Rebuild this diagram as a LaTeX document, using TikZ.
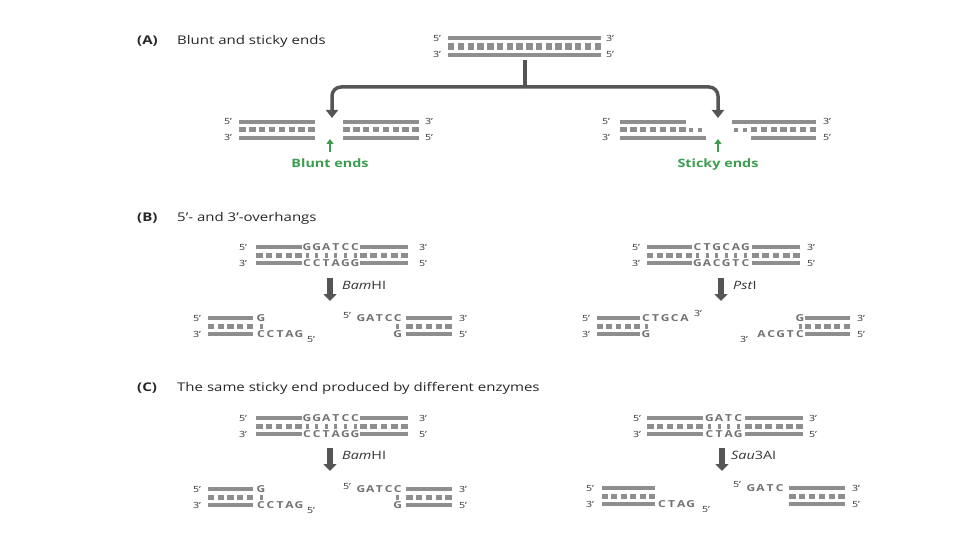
\documentclass[tikz,border=0pt]{standalone}
\usepackage{fontspec}
\setmainfont[FakeStretch=1.25]{Open Sans}
\usetikzlibrary{arrows.meta}
\definecolor{strandgray}{HTML}{8E8E8E}
\definecolor{arrowgray}{HTML}{555555}
\definecolor{seqgray}{HTML}{727272}
\definecolor{labelgray}{HTML}{333333}
\definecolor{endgreen}{HTML}{3A9D4F}
\newcommand{\strandbar}[3]{\fill[strandgray] (#1,#3-2) rectangle (#2,#3+2);}
\newcommand{\tickrow}[5]{%
  \pgfmathsetmacro{\tw}{(#2-#1-(#4-1)*3.3)/#4}%
  \foreach \k in {1,...,#4}{\fill[strandgray] ({#1+(\k-1)*(\tw+3.3)},{#3-#5/2}) rectangle ++(\tw,#5);}}
\newcommand{\dnaseg}[4]{\strandbar{#1}{#2}{#3}\tickrow{#1}{#2}{#3+8}{#4}{5}\strandbar{#1}{#2}{#3+16}}
\newcommand{\pairdash}[2]{\fill[strandgray] (#1-1.5,#2-2.5) rectangle (#1+1.5,#2+2.5);}
\newcommand{\lab}[4]{\node[lbl] (#1) at (#2,#3) {#4};}
\newcommand{\seqrow}[5]{\foreach \c [count=\i from 0] in {#5}{\node[seqtext] (#1\i) at ({#2+\i*#3},#4) {\c};}}
\newcommand{\dashrow}[4]{\foreach \i in {0,...,#4}{\pairdash{#1+\i*#2}{#3}}}
\tikzset{
  lbl/.style={font=\fontsize{8.5}{9}\selectfont, text=labelgray, inner sep=0pt, text height=6pt, text depth=0pt},
  seqtext/.style={font=\bfseries\fontsize{9.6}{10}\selectfont, text=seqgray, inner sep=0pt, text height=6.9pt, text depth=0pt},
  titletext/.style={font=\fontsize{12}{14}\selectfont, text=black!85, anchor=west, inner sep=0pt, text height=8.6pt, text depth=0pt},
  enzyme/.style={font=\fontsize{11.5}{13}\selectfont, text=labelgray, anchor=west, inner sep=0pt, text height=8.2pt, text depth=0pt},
  greenlbl/.style={font=\bfseries\fontsize{11.5}{13}\selectfont, text=endgreen, inner sep=0pt, text height=8.2pt, text depth=0pt},
  bigarrow/.style={draw=arrowgray, line width=6pt, -{Triangle[width=13pt,length=7pt]}},
  treeline/.style={draw=arrowgray, line width=3.5pt, rounded corners=9pt},
  treearrow/.style={treeline, -{Triangle[width=12pt,length=8pt]}},
  greenarrow/.style={draw=endgreen, line width=2pt, -{Triangle[width=7pt,length=5pt]}}
}
\begin{document}
\begin{tikzpicture}[x=1pt,y=-1pt]
\path[use as bounding box] (0,0) rectangle (960,540);
% ---------------- (A)
\node[titletext,font=\bfseries\fontsize{12}{14}\selectfont] (tA) at (137,40) {(A)};
\node[titletext] (tAt) at (177,40) {Blunt and sticky ends};
% top DNA
\strandbar{448}{601}{38.5}\tickrow{448}{601}{46.5}{16}{6.5}\strandbar{448}{601}{55}
\lab{a5a}{437}{38.5}{5'}\lab{a3a}{437}{55}{3'}
\lab{a3b}{610}{38.5}{3'}\lab{a5b}{610}{55}{5'}
\coordinate (stemtop) at (525,60);
\coordinate (fork) at (525,87);
\coordinate (bluntin) at (332,118);
\coordinate (stickyin) at (718,118);
\draw[treeline] (stemtop) -- (fork);
\draw[treearrow] (fork) -| (bluntin);
\draw[treearrow] (fork) -| (stickyin);
% blunt
\dnaseg{239}{315}{122}{8}\dnaseg{343}{419}{122}{8}
\lab{b5a}{228}{122}{5'}\lab{b3a}{228}{138}{3'}
\lab{b3b}{429}{122}{3'}\lab{b5b}{429}{138}{5'}
\node[greenlbl] (blunt) at (330,163) {Blunt ends};
\coordinate (bluntarr) at (330,139);
\draw[greenarrow] (330,152) -- (bluntarr);
% sticky
\strandbar{620}{686}{122}\tickrow{620}{686}{130}{7}{5}\strandbar{620}{706}{138}
\fill[strandgray] (689,128.5) rectangle ++(4,3.5);
\fill[strandgray] (698,128.5) rectangle ++(4,3.5);
\strandbar{732}{816}{122}\tickrow{751}{816}{130}{7}{5}\strandbar{751}{816}{138}
\fill[strandgray] (734,128.5) rectangle ++(4,3.5);
\fill[strandgray] (743,128.5) rectangle ++(4,3.5);
\lab{s5a}{606}{122}{5'}\lab{s3a}{606}{138}{3'}
\lab{s3b}{827}{122}{3'}\lab{s5b}{827}{138}{5'}
\node[greenlbl] (sticky) at (718,163) {Sticky ends};
\coordinate (stickyarr) at (718,139);
\draw[greenarrow] (718,152) -- (stickyarr);
% ---------------- (B)
\node[titletext,font=\bfseries\fontsize{12}{14}\selectfont] (tB) at (137,217) {(B)};
\node[titletext] (tBt) at (177,217) {5'- and 3'-overhangs};
% BamHI top
\dnaseg{256}{302}{247}{5}\dnaseg{360}{408}{247}{5}
\seqrow{bgt}{307}{9.6}{247}{G,G,A,T,C,C}
\seqrow{bgb}{307}{9.6}{263}{C,C,T,A,G,G}
\dashrow{307}{9.6}{255}{5}
\lab{bl5a}{243}{247}{5'}\lab{bl3a}{243}{263}{3'}
\lab{bl3b}{423}{247}{3'}\lab{bl5b}{423}{263}{5'}
\coordinate (bArrA) at (330,278);\coordinate (bArrB) at (330,301);
\draw[bigarrow] (bArrA) -- (bArrB);
\node[enzyme] (bam1) at (342,285) {\textit{Bam}HI};
% BamHI bottom
\dnaseg{208}{253}{318}{5}
\seqrow{bcl}{261}{0}{318}{G}
\pairdash{261}{326}
\seqrow{bcb}{261}{9.5}{334}{C,C,T,A,G}
\lab{bc5a}{197}{318}{5'}\lab{bc3a}{197}{334}{3'}
\lab{bc5c}{311}{339}{5'}
\lab{bc5d}{347}{315}{5'}
\seqrow{bdt}{361}{9.2}{318}{G,A,T,C,C}
\pairdash{397.8}{326}
\seqrow{bdb}{397.8}{0}{334}{G}
\dnaseg{406}{452}{318}{5}
\lab{bd3a}{463}{318}{3'}\lab{bd5a}{463}{334}{5'}
% PstI top
\dnaseg{647}{692}{247}{5}\dnaseg{752}{800}{247}{5}
\seqrow{pgt}{697.5}{9.6}{247}{C,T,G,C,A,G}
\seqrow{pgb}{697.5}{9.6}{263}{G,A,C,G,T,C}
\dashrow{697.5}{9.6}{255}{5}
\lab{pl5a}{636}{247}{5'}\lab{pl3a}{636}{263}{3'}
\lab{pl3b}{811}{247}{3'}\lab{pl5b}{811}{263}{5'}
\coordinate (pArrA) at (721,278);\coordinate (pArrB) at (721,301);
\draw[bigarrow] (pArrA) -- (pArrB);
\node[enzyme] (pst) at (733,285) {\textit{Pst}I};
% PstI bottom
\dnaseg{597}{640}{318}{5}
\seqrow{pct}{646}{9.6}{318}{C,T,G,C,A}
\pairdash{646}{326}
\seqrow{pcb}{646}{0}{334}{G}
\lab{pc5a}{586}{318}{5'}\lab{pc3a}{586}{334}{3'}
\lab{pc3c}{698}{313}{3'}
\seqrow{pdt}{800}{0}{318}{G}
\pairdash{800}{326}
\seqrow{pdb}{761.6}{9.6}{334}{A,C,G,T,C}
\lab{pd3c}{744}{339}{3'}
\dnaseg{805}{850}{318}{5}
\lab{pd3a}{861}{318}{3'}\lab{pd5a}{861}{334}{5'}
% ---------------- (C)
\node[titletext,font=\bfseries\fontsize{12}{14}\selectfont] (tC) at (137,387) {(C)};
\node[titletext] (tCt) at (177,387) {The same sticky end produced by different enzymes};
% BamHI top
\dnaseg{256}{302}{418}{5}\dnaseg{360}{408}{418}{5}
\seqrow{cgt}{307}{9.6}{418}{G,G,A,T,C,C}
\seqrow{cgb}{307}{9.6}{434}{C,C,T,A,G,G}
\dashrow{307}{9.6}{426}{5}
\lab{cl5a}{243}{418}{5'}\lab{cl3a}{243}{434}{3'}
\lab{cl3b}{423}{418}{3'}\lab{cl5b}{423}{434}{5'}
\coordinate (cArrA) at (330,448);\coordinate (cArrB) at (330,471);
\draw[bigarrow] (cArrA) -- (cArrB);
\node[enzyme] (bam2) at (342,455) {\textit{Bam}HI};
% BamHI bottom
\dnaseg{208}{253}{489}{5}
\seqrow{ccl}{261}{0}{489}{G}
\pairdash{261}{497}
\seqrow{ccb}{261}{9.5}{505}{C,C,T,A,G}
\lab{cc5a}{197}{489}{5'}\lab{cc3a}{197}{505}{3'}
\lab{cc5c}{311}{510}{5'}
\lab{cc5d}{347}{486}{5'}
\seqrow{cdt}{361}{9.2}{489}{G,A,T,C,C}
\pairdash{397.8}{497}
\seqrow{cdb}{397.8}{0}{505}{G}
\dnaseg{406}{452}{489}{5}
\lab{cd3a}{463}{489}{3'}\lab{cd5a}{463}{505}{5'}
% Sau3AI top
\dnaseg{647}{703}{418}{6}\dnaseg{745}{803}{418}{6}
\seqrow{sgt}{709.5}{9.6}{418}{G,A,T,C}
\seqrow{sgb}{709.5}{9.6}{434}{C,T,A,G}
\dashrow{709.5}{9.6}{426}{3}
\lab{sl5a}{637}{418}{5'}\lab{sl3a}{637}{434}{3'}
\lab{sl3b}{813}{418}{3'}\lab{sl5b}{813}{434}{5'}
\coordinate (sArrA) at (722,448);\coordinate (sArrB) at (722,471);
\draw[bigarrow] (sArrA) -- (sArrB);
\node[enzyme] (sau) at (731,455) {\textit{Sau}3AI};
% Sau3AI bottom
\dnaseg{602}{655}{488}{6}
\seqrow{scb}{662}{9.6}{504}{C,T,A,G}
\lab{sc5a}{590}{488}{5'}\lab{sc3a}{590}{504}{3'}
\lab{sc5c}{706}{509}{5'}
\lab{sd5c}{737}{484}{5'}
\seqrow{sdt}{751}{9.6}{488}{G,A,T,C}
\dnaseg{789}{845}{488}{6}
\lab{sd3a}{856}{488}{3'}\lab{sd5a}{856}{504}{5'}
\end{tikzpicture}
\end{document}
